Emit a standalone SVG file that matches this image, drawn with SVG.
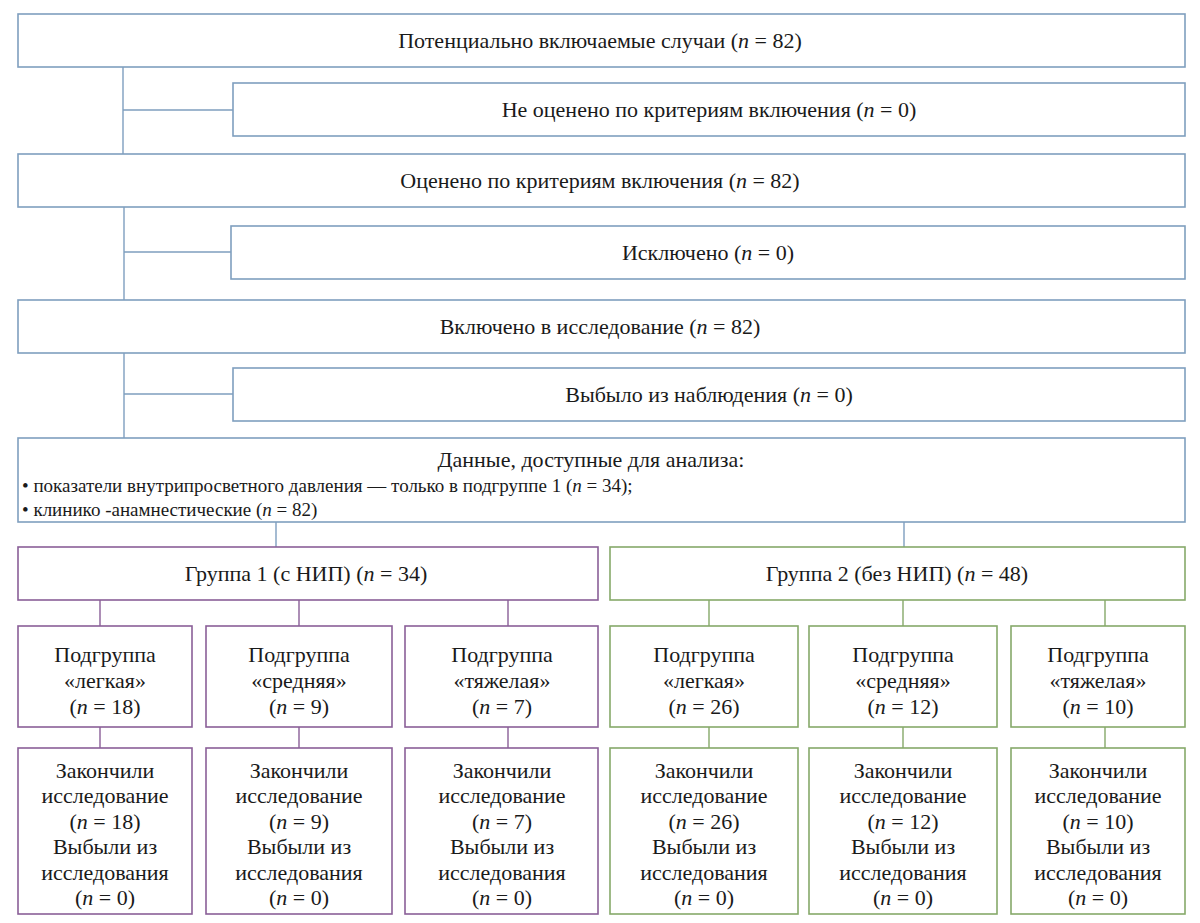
<svg xmlns="http://www.w3.org/2000/svg" width="1200" height="923" viewBox="0 0 1200 923">
<style>
text{font-family:"Liberation Serif","Tinos","DejaVu Serif","Noto Serif","Times New Roman",serif;font-size:22px;fill:#1a1a1a;text-anchor:middle}
.l{text-anchor:start;font-size:19px}
.b{fill:#fff;stroke:#7f9fbf;stroke-width:1.6}
.p{fill:#fff;stroke:#8a5f98;stroke-width:1.6}
.g{fill:#fff;stroke:#86a96a;stroke-width:1.6}
.cb{stroke:#7f9fbf;stroke-width:1.4;fill:none}
.cp{stroke:#8a5f98;stroke-width:1.4;fill:none}
.cg{stroke:#86a96a;stroke-width:1.4;fill:none}
</style>
<rect width="1200" height="923" fill="#fff"/>
<g id="connectors">
<path class="cb" d="M123 67V154M123 110H233M124 207V300M124 252H231M124 353V438M124 394H233M276 522V547M904 522V547"/>
<path class="cp" d="M100 600V626M299 600V626M508 600V626M100 727V748M299 727V748M508 727V748"/>
<path class="cg" d="M709 600V626M903 600V626M1105 600V626M709 727V748M903 727V748M1105 727V748"/>
</g>
<g id="n1"><rect class="b" x="18" y="14" width="1167" height="53"/><text x="600" y="48">Потенциально включаемые случаи (<tspan font-style="italic">n</tspan> = 82)</text></g>
<g id="n2"><rect class="b" x="233" y="83" width="952" height="53"/><text x="709" y="117">Не оценено по критериям включения (<tspan font-style="italic">n</tspan> = 0)</text></g>
<g id="n3"><rect class="b" x="18" y="154" width="1167" height="53"/><text x="600" y="188">Оценено по критериям включения (<tspan font-style="italic">n</tspan> = 82)</text></g>
<g id="n4"><rect class="b" x="231" y="226" width="954" height="53"/><text x="708" y="260">Исключено (<tspan font-style="italic">n</tspan> = 0)</text></g>
<g id="n5"><rect class="b" x="18" y="300" width="1167" height="53"/><text x="600" y="334">Включено в исследование (<tspan font-style="italic">n</tspan> = 82)</text></g>
<g id="n6"><rect class="b" x="233" y="368" width="952" height="53"/><text x="709" y="402">Выбыло из наблюдения (<tspan font-style="italic">n</tspan> = 0)</text></g>
<g id="n7"><rect class="b" x="18" y="438" width="1167" height="84"/>
<text x="591" y="467">Данные, доступные для анализа:</text>
<text class="l" x="22" y="492">• показатели внутрипросветного давления  — только в подгруппе 1 (<tspan font-style="italic">n</tspan> = 34);</text>
<text class="l" x="22" y="516">• клинико -анамнестические (<tspan font-style="italic">n</tspan> = 82)</text></g>
<g id="g1"><rect class="p" x="18" y="547" width="580" height="53"/><text x="306" y="581">Группа 1 (с НИП) (<tspan font-style="italic">n</tspan> = 34)</text></g>
<g id="g2"><rect class="g" x="610" y="547" width="575" height="53"/><text x="897" y="581">Группа 2 (без НИП) (<tspan font-style="italic">n</tspan> = 48)</text></g>
<g id="s1"><rect class="p" x="18" y="626" width="174" height="101"/><text x="105"><tspan x="105" y="662">Подгруппа</tspan><tspan x="105" y="688">«легкая»</tspan><tspan x="105" y="714">(<tspan font-style="italic">n</tspan> = 18)</tspan></text></g>
<g id="s2"><rect class="p" x="206" y="626" width="186" height="101"/><text x="299"><tspan x="299" y="662">Подгруппа</tspan><tspan x="299" y="688">«средняя»</tspan><tspan x="299" y="714">(<tspan font-style="italic">n</tspan> = 9)</tspan></text></g>
<g id="s3"><rect class="p" x="405" y="626" width="193" height="101"/><text x="502"><tspan x="502" y="662">Подгруппа</tspan><tspan x="502" y="688">«тяжелая»</tspan><tspan x="502" y="714">(<tspan font-style="italic">n</tspan> = 7)</tspan></text></g>
<g id="s4"><rect class="g" x="610" y="626" width="188" height="101"/><text x="704"><tspan x="704" y="662">Подгруппа</tspan><tspan x="704" y="688">«легкая»</tspan><tspan x="704" y="714">(<tspan font-style="italic">n</tspan> = 26)</tspan></text></g>
<g id="s5"><rect class="g" x="809" y="626" width="188" height="101"/><text x="903"><tspan x="903" y="662">Подгруппа</tspan><tspan x="903" y="688">«средняя»</tspan><tspan x="903" y="714">(<tspan font-style="italic">n</tspan> = 12)</tspan></text></g>
<g id="s6"><rect class="g" x="1011" y="626" width="174" height="101"/><text x="1098"><tspan x="1098" y="662">Подгруппа</tspan><tspan x="1098" y="688">«тяжелая»</tspan><tspan x="1098" y="714">(<tspan font-style="italic">n</tspan> = 10)</tspan></text></g>
<g id="f1"><rect class="p" x="18" y="748" width="174" height="166"/><text x="105"><tspan x="105" y="778">Закончили</tspan><tspan x="105" y="803">исследование</tspan><tspan x="105" y="829">(<tspan font-style="italic">n</tspan> = 18)</tspan><tspan x="105" y="854">Выбыли из</tspan><tspan x="105" y="880">исследования</tspan><tspan x="105" y="905">(<tspan font-style="italic">n</tspan> = 0)</tspan></text></g>
<g id="f2"><rect class="p" x="206" y="748" width="186" height="166"/><text x="299"><tspan x="299" y="778">Закончили</tspan><tspan x="299" y="803">исследование</tspan><tspan x="299" y="829">(<tspan font-style="italic">n</tspan> = 9)</tspan><tspan x="299" y="854">Выбыли из</tspan><tspan x="299" y="880">исследования</tspan><tspan x="299" y="905">(<tspan font-style="italic">n</tspan> = 0)</tspan></text></g>
<g id="f3"><rect class="p" x="405" y="748" width="193" height="166"/><text x="502"><tspan x="502" y="778">Закончили</tspan><tspan x="502" y="803">исследование</tspan><tspan x="502" y="829">(<tspan font-style="italic">n</tspan> = 7)</tspan><tspan x="502" y="854">Выбыли из</tspan><tspan x="502" y="880">исследования</tspan><tspan x="502" y="905">(<tspan font-style="italic">n</tspan> = 0)</tspan></text></g>
<g id="f4"><rect class="g" x="610" y="748" width="188" height="166"/><text x="704"><tspan x="704" y="778">Закончили</tspan><tspan x="704" y="803">исследование</tspan><tspan x="704" y="829">(<tspan font-style="italic">n</tspan> = 26)</tspan><tspan x="704" y="854">Выбыли из</tspan><tspan x="704" y="880">исследования</tspan><tspan x="704" y="905">(<tspan font-style="italic">n</tspan> = 0)</tspan></text></g>
<g id="f5"><rect class="g" x="809" y="748" width="188" height="166"/><text x="903"><tspan x="903" y="778">Закончили</tspan><tspan x="903" y="803">исследование</tspan><tspan x="903" y="829">(<tspan font-style="italic">n</tspan> = 12)</tspan><tspan x="903" y="854">Выбыли из</tspan><tspan x="903" y="880">исследования</tspan><tspan x="903" y="905">(<tspan font-style="italic">n</tspan> = 0)</tspan></text></g>
<g id="f6"><rect class="g" x="1011" y="748" width="174" height="166"/><text x="1098"><tspan x="1098" y="778">Закончили</tspan><tspan x="1098" y="803">исследование</tspan><tspan x="1098" y="829">(<tspan font-style="italic">n</tspan> = 10)</tspan><tspan x="1098" y="854">Выбыли из</tspan><tspan x="1098" y="880">исследования</tspan><tspan x="1098" y="905">(<tspan font-style="italic">n</tspan> = 0)</tspan></text></g>
</svg>
